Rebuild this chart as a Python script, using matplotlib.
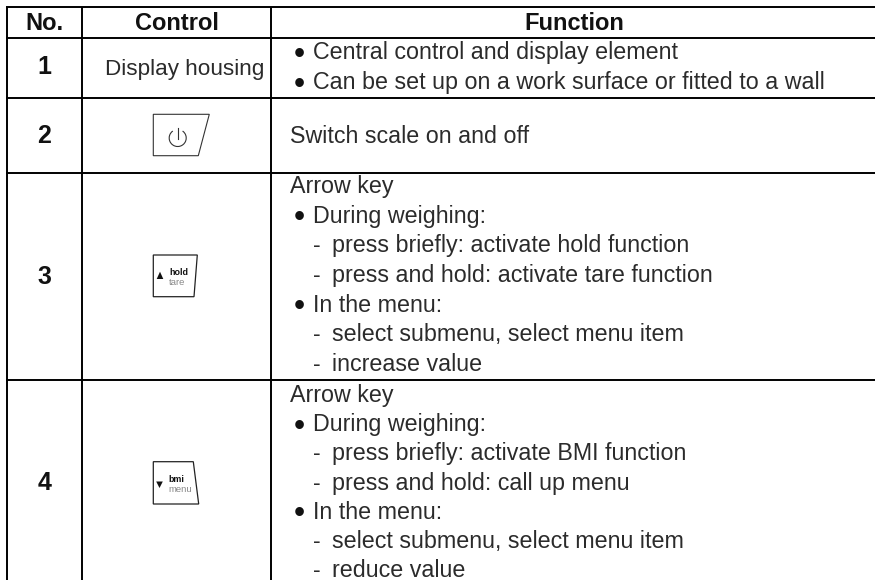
import matplotlib
matplotlib.use("Agg")
import matplotlib.pyplot as plt
from matplotlib.patches import Polygon, Arc

numbers = ["1", "2", "3", "4"]
headers = ["No.", "Control", "Function"]
control_1 = "Display housing"
# (marker, text): marker is "" for plain, "•" for bullet, "-" for sub-item
function_lines = [
    [("•", "Central control and display element"), ("•", "Can be set up on a work surface or fitted to a wall")],
    [("", "Switch scale on and off")],
    [("", "Arrow key"), ("•", "During weighing:"), ("-", "press briefly: activate hold function"),
     ("-", "press and hold: activate tare function"), ("•", "In the menu:"),
     ("-", "select submenu, select menu item"), ("-", "increase value")],
    [("", "Arrow key"), ("•", "During weighing:"), ("-", "press briefly: activate BMI function"),
     ("-", "press and hold: call up menu"), ("•", "In the menu:"),
     ("-", "select submenu, select menu item"), ("-", "reduce value")],
]

# Layout (pixels)
row_edges = [6.7, 37.7, 97.7, 172.7, 380]
col_edges = [7, 81.7, 271]
header_x = [44.5, 176.5, 574]
number_base = [74.5, 143, 284, 490]
first_base = [59.3, 142.7, 193, 402]
steps = [30, 0, 29.7, 29.2]

plt.rcParams['font.family'] = ['Liberation Sans', 'DejaVu Sans']
fig = plt.figure(figsize=(8.75, 5.8), dpi=100)
ax = fig.add_axes([0, 0, 1, 1])
ax.set_xlim(0, 875)
ax.set_ylim(580, 0)
ax.axis("off")

LW = 1.4
TXT = "#2b2b2b"
for y in row_edges:
    ax.plot([col_edges[0] - 1, 875], [y, y], color="#000", lw=LW, solid_capstyle="butt")
for x in col_edges:
    ax.plot([x, x], [row_edges[0], 580], color="#000", lw=LW, solid_capstyle="butt")

FS = 16.75
for x, h in zip(header_x, headers):
    ax.text(x, 30, h, ha="center", va="baseline", fontsize=17, fontweight="bold", color="#111")
for b, n in zip(number_base, numbers):
    ax.text(44.5, b, n, ha="center", va="baseline", fontsize=18, fontweight="bold", color="#111")
ax.text(185, 75, control_1, ha="center", va="baseline", fontsize=16.2, color=TXT)

for r, lines in enumerate(function_lines):
    for j, (mark, t) in enumerate(lines):
        b = first_base[r] + j * steps[r]
        if mark == "•":
            ax.text(293.5, b + 3.5, mark, ha="left", va="baseline", fontsize=23, color="#111")
            ax.text(313, b, t, ha="left", va="baseline", fontsize=FS, color=TXT)
        elif mark == "-":
            ax.text(313, b, mark, ha="left", va="baseline", fontsize=FS, color=TXT)
            ax.text(332, b, t, ha="left", va="baseline", fontsize=FS, color=TXT)
        else:
            ax.text(289.5, b, t, ha="left", va="baseline", fontsize=FS, color=TXT)

# Key outlines
ax.add_patch(Polygon([(153.3, 114.3), (209.3, 114.3), (198.3, 155.7), (153.3, 155.7)], closed=True, fill=False, ec="#333", lw=0.8))
ax.add_patch(Polygon([(153.3, 255), (197.3, 255), (194, 296.7), (153.3, 296.7)], closed=True, fill=False, ec="#222", lw=0.9))
ax.add_patch(Polygon([(153.3, 461.7), (193.3, 461.7), (198.7, 504), (153.3, 504)], closed=True, fill=False, ec="#222", lw=0.9))
# Power icon
ax.add_patch(Arc((177.7, 138), 17, 17, theta1=-55, theta2=235, ec="#333", lw=0.8))
ax.plot([177.7, 177.7], [128, 139], color="#333", lw=0.8)
# Arrow glyphs
ax.add_patch(Polygon([(156.7, 279), (163.3, 279), (160, 271.7)], closed=True, fc="#111", ec="none"))
ax.add_patch(Polygon([(156.2, 481.5), (162.8, 481.5), (159.5, 488)], closed=True, fc="#111", ec="none"))
ax.text(169.3, 275, "hold", fontsize=6.4, fontweight="bold", ha="left", va="baseline", color="#111")
ax.text(169.3, 285, "tare", fontsize=6.8, ha="left", va="baseline", color="#888")
ax.text(168.3, 481.7, "bmi", fontsize=6.4, fontweight="bold", ha="left", va="baseline", color="#111")
ax.text(168.3, 491.7, "menu", fontsize=6.8, ha="left", va="baseline", color="#888")

fig.savefig("out.png", dpi=100)
